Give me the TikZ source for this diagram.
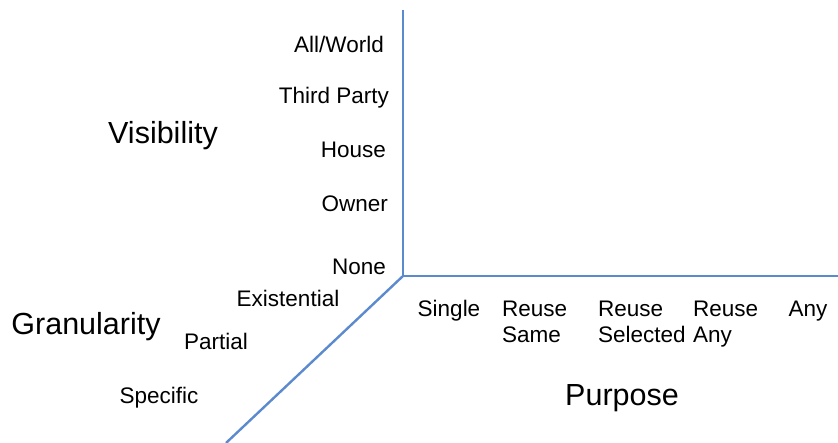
\documentclass[tikz,border=0pt]{standalone}
\usepackage{fontspec}
\setmainfont{Liberation Sans}
\definecolor{axisblue}{RGB}{92,138,206}
\begin{document}
\begin{tikzpicture}[x=1pt,y=-1pt,
  axis/.style={draw=axisblue,line width=2.4pt},
  small/.style={inner sep=0pt,font=\fontsize{22.5}{26}\selectfont},
  big/.style={inner sep=0pt,font=\fontsize{30.5}{34}\selectfont}]
\useasboundingbox (0,0) rectangle (838,443);
\coordinate (O) at (403,276);
\coordinate (top) at (403,10);
\coordinate (right) at (838,276);
\coordinate (diag) at (226,443);
\draw[axis] (top) -- (O) -- (right);
\draw[axis] (O) -- (diag);
% Visibility
\node[small,anchor=base east] (all) at (384,53) {All/World};
\node[small,anchor=base east] (third) at (389,104) {Third Party};
\node[small,anchor=base east] (house) at (386,158) {House};
\node[small,anchor=base east] (owner) at (388,212) {Owner};
\node[small,anchor=base east] (none) at (386,275) {None};
\node[big,anchor=base] (vis) at (163,144) {Visibility};
% Granularity
\node[small,anchor=base] (exist) at (288,307) {Existential};
\node[big,anchor=base] (gran) at (86,335) {Granularity};
\node[small,anchor=base] (partial) at (216,350) {Partial};
\node[small,anchor=base] (spec) at (159,404) {Specific};
% Purpose
\node[small,anchor=base] (single) at (449,317) {Single};
\node[small,anchor=base west,align=left] (same) at (502,343) {Reuse\\Same};
\node[small,anchor=base west,align=left] (sel) at (598,343) {Reuse\\Selected};
\node[small,anchor=base west,align=left] (rany) at (693,343) {Reuse\\Any};
\node[small,anchor=base] (any) at (808,317) {Any};
\node[big,anchor=base] (purp) at (622,406) {Purpose};
\end{tikzpicture}
\end{document}
